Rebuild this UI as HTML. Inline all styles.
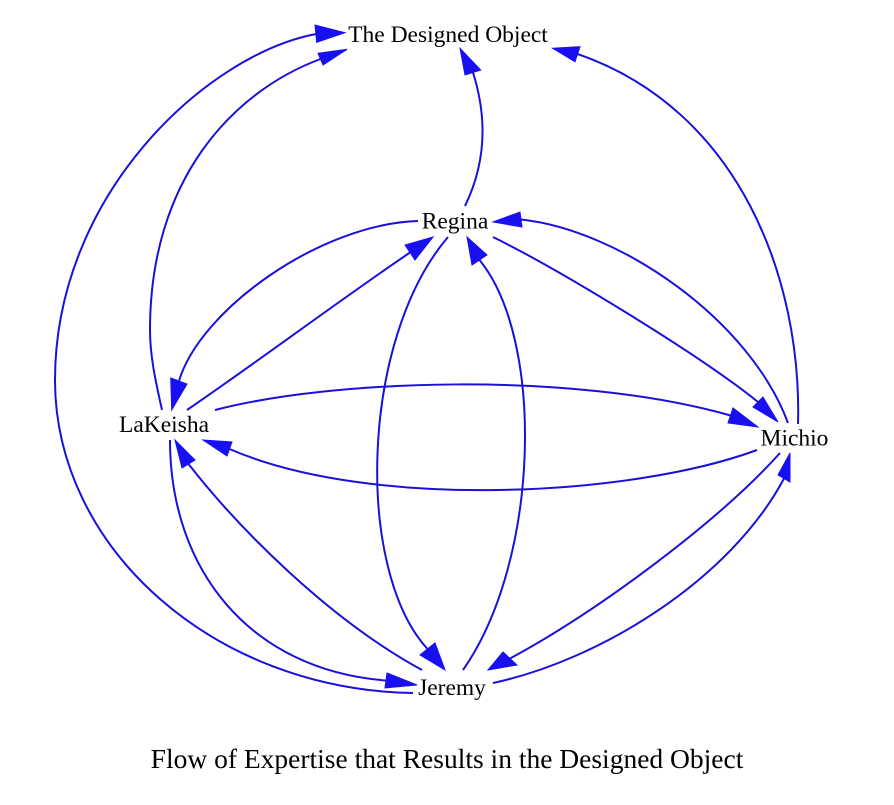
<!DOCTYPE html>
<html>
<head>
<meta charset="utf-8">
<style>
  html, body { margin: 0; padding: 0; background: #ffffff; }
  body { width: 894px; height: 805px; overflow: hidden; }
  svg { display: block; }
  text { font-family: "Liberation Serif", "Times New Roman", serif; fill: #000; }
</style>
</head>
<body>
<svg width="894" height="805" viewBox="0 0 894 805" xmlns="http://www.w3.org/2000/svg">
  <rect width="894" height="805" fill="#ffffff"/>
  <g fill="none" stroke="#1a10dc" stroke-width="2">
    <!-- A: Jeremy -> Designed Object (outer) -->
    <path d="M413,693 C215,690 55,549 55,380 C55,195 206,55 316,34"/>
    <!-- B: LaKeisha -> Designed Object -->
    <path d="M162,410 C156,383 150,357 150,330 C150,180 232,92 320.5,59"/>
    <!-- C: Regina -> Designed Object -->
    <path d="M465,206 C485,165 488,120 473,72.5"/>
    <!-- D: Michio -> Designed Object -->
    <path d="M798,424 C802,280 740,110 577.5,54"/>
    <!-- E: Regina -> LaKeisha -->
    <path d="M418,221 C320,224 200,310 179,381"/>
    <!-- F: LaKeisha -> Regina -->
    <path d="M187,410 C260,360 340,300 410,252.5"/>
    <!-- G: LaKeisha -> Michio -->
    <path d="M215,410 C330,380 570,370 730.5,415.5"/>
    <!-- H: Michio -> LaKeisha -->
    <path d="M757,450 C630,497 370,510 229.5,449"/>
    <!-- I: Regina -> Michio -->
    <path d="M493,237 C560,270 700,355 758,402"/>
    <!-- J: Michio -> Regina -->
    <path d="M788,423 C750,320 620,230 521,219.5"/>
    <!-- K: Regina -> Jeremy -->
    <path d="M448,237 C360,340 355,570 427.5,649"/>
    <!-- L: Jeremy -> Regina -->
    <path d="M463,670 C540,560 545,340 479.5,260"/>
    <!-- M: LaKeisha -> Jeremy -->
    <path d="M170,440 C170,570 250,670 386,680.5"/>
    <!-- N: Jeremy -> LaKeisha -->
    <path d="M422,670 C330,620 240,530 188.5,464"/>
    <!-- O: Michio -> Jeremy -->
    <path d="M780,453 C720,520 600,610 510,658.5"/>
    <!-- P: Jeremy -> Michio -->
    <path d="M493,683 C600,660 730,580 784,478.5"/>
  </g>
  <g fill="#1810f0" stroke="#1810f0" stroke-width="1">
    <polygon points="345,32.7 315,25 316.7,42.3"/>
    <polygon points="347,49.3 318,53.3 323,65"/>
    <polygon points="460,48.3 465,75 480.7,70"/>
    <polygon points="552.7,48.3 580,46.7 575,61.7"/>
    <polygon points="171.7,410 170.7,378 187,384"/>
    <polygon points="433,237 405,245 415,260"/>
    <polygon points="758,427 733,408 728,423"/>
    <polygon points="203,440 232,442 227,456"/>
    <polygon points="778,422 753,407 763,397"/>
    <polygon points="493,222 520,212 522,227"/>
    <polygon points="445,670 420,655 435,643"/>
    <polygon points="467,237 472,265 487,255"/>
    <polygon points="417,685 387,673 385,688"/>
    <polygon points="175,440 182,468 195,460"/>
    <polygon points="488,670 503,652 517,665"/>
    <polygon points="790,453 778,475 790,482"/>
  </g>
  <g font-size="23.5" text-anchor="middle">
    <text x="448" y="42">The Designed Object</text>
    <text x="455" y="228.5">Regina</text>
    <text x="164" y="432">LaKeisha</text>
    <text x="794.5" y="445.5">Michio</text>
    <text x="452" y="695">Jeremy</text>
  </g>
  <text x="447" y="768" font-size="27.5" text-anchor="middle">Flow of Expertise that Results in the Designed Object</text>
</svg>
</body>
</html>
